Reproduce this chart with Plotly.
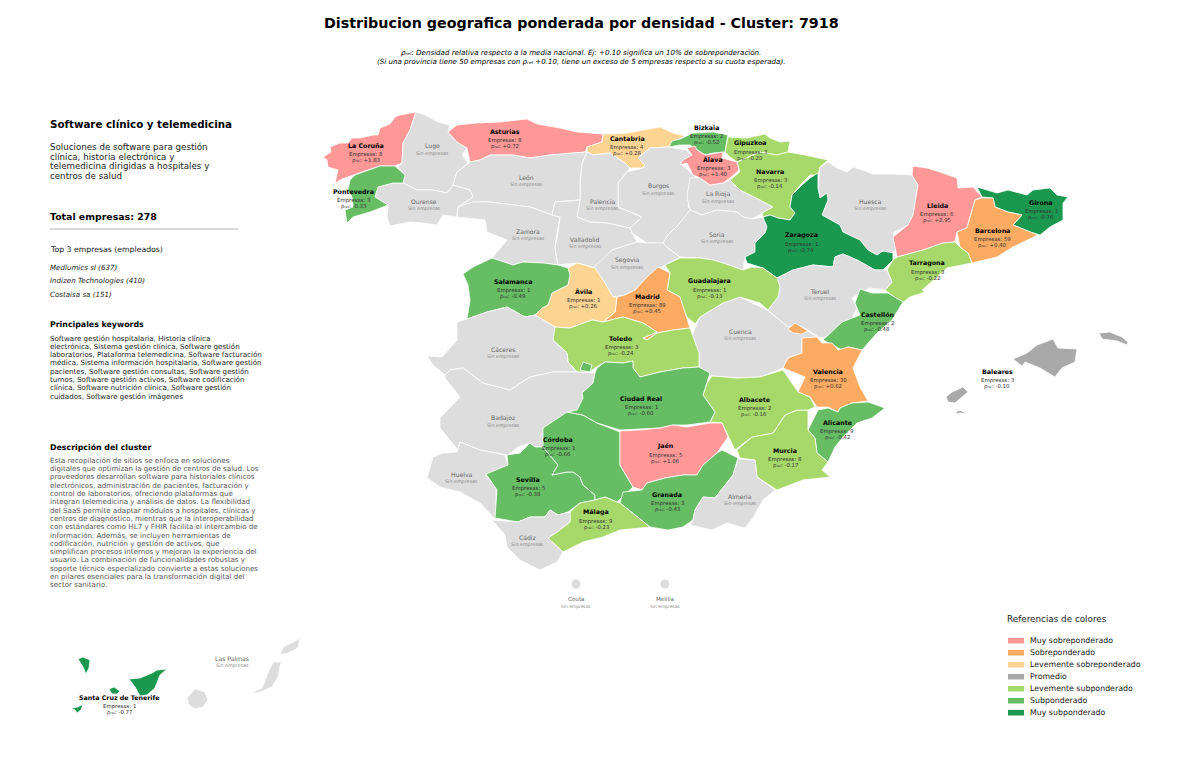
import plotly.graph_objects as go

FONT = "DejaVu Sans"

# province outlines
la_coruna = [(416,112),(410,113),(400,115),(395,117),(390,124),(380,128),(378,135),(373,135),(360,138),(352,138),(348,143),(340,143),(330,147),(331,152),(323,157),(327,160),(328,167),(338,170),(337,175),(335,183),(342,179),(353,175),(365,171),(380,166),(395,166),(402,163),(403,143),(410,130)]
lugo = [(416,112),(425,115),(438,122),(450,125),(448,132),(457,142),(467,148),(462,155),(468,163),(457,172),(453,185),(447,193),(433,190),(417,190),(403,183),(405,175),(398,167),(402,163),(403,143),(410,130)]
asturias = [(448,132),(457,125),(477,123),(500,122),(527,119),(537,124),(560,128),(577,132),(603,134),(602,142),(587,147),(585,152),(573,153),(550,155),(530,158),(513,155),(490,155),(480,160),(470,162),(467,148),(457,142)]
cantabria = [(603,134),(627,133),(660,127),(673,133),(685,136),(673,142),(668,147),(650,148),(638,158),(645,165),(643,168),(630,168),(625,163),(610,153),(593,155),(587,152),(587,147),(602,142)]
bizkaia = [(669,147),(672,141),(680,139),(693,133),(713,132),(728,135),(725,152),(713,153),(705,155),(697,150),(690,145),(680,145)]
gipuzkoa = [(728,137),(747,138),(765,134),(770,138),(780,142),(790,141),(788,152),(777,155),(760,152),(747,158),(737,162),(730,157),(725,152)]
navarra = [(788,152),(805,155),(828,160),(820,167),(818,175),(810,175),(802,183),(792,195),(790,207),(795,213),(790,220),(778,218),(770,215),(763,217),(762,213),(773,207),(760,200),(740,190),(730,180),(740,172),(737,162),(747,158),(760,152),(777,155)]
alava = [(687,148),(695,146),(697,150),(705,155),(717,153),(723,152),(722,158),(737,162),(739,170),(730,178),(723,183),(710,185),(700,178),(693,175),(687,163),(680,165),(683,160),(692,155)]
la_rioja = [(690,178),(700,178),(710,185),(723,183),(730,180),(740,190),(760,200),(773,207),(762,213),(752,219),(743,217),(737,212),(717,210),(702,215),(690,210),(687,197)]
burgos = [(668,147),(687,150),(692,157),(680,163),(690,172),(698,180),(690,190),(688,207),(697,215),(680,223),(668,235),(663,243),(647,243),(632,233),(630,228),(642,217),(618,207),(618,183),(627,172),(643,168),(645,165),(638,158),(650,148)]
palencia = [(587,152),(593,155),(610,153),(625,163),(630,168),(627,172),(618,183),(618,207),(642,217),(630,228),(607,223),(590,222),(577,217),(580,200),(580,183),(582,163)]
leon = [(470,162),(480,160),(490,155),(513,155),(530,158),(550,155),(573,153),(587,152),(582,163),(580,183),(580,200),(555,202),(552,215),(530,207),(490,202),(473,202),(458,207),(473,197),(470,190),(453,185),(457,172)]
ourense = [(378,187),(393,183),(403,183),(417,190),(433,190),(447,193),(453,185),(470,190),(473,197),(458,207),(457,217),(443,215),(437,225),(423,223),(410,222),(390,226),(387,217),(388,205),(375,197)]
pontevedra = [(350,180),(355,175),(380,166),(395,166),(405,175),(403,183),(393,183),(378,187),(375,197),(388,205),(370,212),(353,217),(347,223),(345,210),(353,207),(352,197),(348,190)]
zamora = [(458,207),(473,202),(490,202),(530,207),(552,215),(560,217),(557,233),(555,248),(558,265),(543,263),(523,262),(513,265),(492,258),(507,240),(487,232),(485,220),(457,217)]
valladolid = [(555,202),(580,200),(577,217),(590,222),(607,223),(630,228),(632,233),(637,242),(612,250),(595,268),(577,263),(558,265),(555,248),(558,233),(560,217),(552,215)]
segovia = [(612,250),(637,242),(647,243),(663,243),(668,248),(680,257),(665,265),(647,277),(635,290),(625,295),(613,297),(603,280),(593,268)]
soria = [(680,223),(690,210),(702,215),(717,210),(737,212),(743,217),(752,219),(763,217),(767,227),(765,233),(755,243),(755,252),(745,257),(743,270),(723,263),(713,260),(700,258),(680,257),(668,248),(663,243),(668,235)]
zaragoza = [(818,173),(810,178),(802,185),(792,195),(790,207),(795,213),(790,220),(778,218),(770,215),(763,217),(767,227),(765,233),(755,243),(755,252),(745,257),(747,263),(763,268),(777,278),(793,270),(813,265),(833,267),(835,257),(843,254),(857,260),(875,270),(883,270),(893,260),(893,253),(883,251),(877,255),(868,250),(860,240),(843,232),(840,225),(822,215),(828,200),(827,193),(820,198),(818,188)]
huesca = [(820,167),(828,162),(837,168),(847,172),(853,167),(863,170),(873,174),(893,174),(912,175),(918,185),(915,203),(913,215),(908,225),(893,233),(897,247),(893,253),(883,251),(877,255),(868,250),(860,240),(843,232),(840,225),(822,215),(828,200),(827,193),(820,198),(818,188)]
lleida = [(913,166),(927,168),(940,172),(957,178),(958,188),(973,187),(982,197),(975,200),(970,217),(967,228),(957,232),(955,242),(943,243),(923,250),(897,257),(893,237),(908,225),(913,215),(915,203),(918,185),(912,175)]
girona = [(977,187),(988,190),(997,193),(1008,190),(1027,195),(1033,190),(1050,188),(1057,195),(1068,197),(1063,203),(1063,220),(1050,227),(1040,235),(1030,232),(1013,225),(1022,215),(1008,212),(995,207),(993,198),(982,197)]
barcelona = [(975,200),(982,198),(993,198),(995,207),(1008,212),(1022,215),(1013,225),(1030,232),(1038,235),(1013,247),(997,257),(972,263),(968,253),(960,247),(957,232),(967,228),(970,217)]
tarragona = [(897,257),(923,250),(943,243),(955,242),(960,247),(968,253),(972,263),(947,268),(937,277),(922,290),(925,292),(910,297),(902,303),(885,290),(892,282),(887,270),(893,260)]
teruel = [(777,278),(793,270),(813,265),(833,267),(835,257),(843,254),(857,260),(875,270),(887,270),(892,282),(885,290),(870,288),(862,292),(852,298),(857,308),(850,323),(837,330),(823,338),(818,337),(808,330),(797,324),(788,327),(777,318),(768,310),(778,297),(780,287)]
castellon = [(860,289),(872,293),(888,293),(903,302),(892,320),(877,333),(862,350),(848,347),(842,350),(832,345),(823,340),(842,322),(860,315),(855,303)]
valencia = [(802,338),(817,337),(822,343),(832,343),(838,350),(848,347),(862,350),(853,368),(860,387),(868,401),(852,403),(840,408),(838,412),(828,407),(817,407),(810,397),(798,392),(805,377),(783,368),(788,358),(802,353)]
ademuz = [(788,329),(795,323),(808,331),(802,334),(793,333)]
alicante = [(840,408),(852,403),(868,402),(885,408),(872,418),(857,423),(843,437),(835,447),(828,462),(817,453),(815,438),(808,430),(818,410),(828,408),(838,412)]
murcia = [(737,450),(752,437),(773,433),(785,415),(797,410),(808,410),(808,430),(815,438),(817,453),(828,462),(822,470),(830,477),(803,480),(777,490),(757,477),(755,460),(740,458)]
albacete = [(712,376),(737,378),(760,377),(783,370),(798,392),(810,397),(815,407),(808,410),(797,410),(785,415),(773,433),(752,437),(735,450),(722,423),(710,422),(715,412),(703,395),(707,383)]
cuenca = [(690,340),(700,317),(723,303),(740,297),(767,310),(777,318),(788,327),(797,325),(808,331),(818,337),(802,338),(802,353),(788,358),(783,368),(760,377),(737,378),(712,376),(699,367),(699,353)]
guadalajara = [(665,265),(680,258),(700,258),(713,260),(723,263),(743,270),(752,267),(763,268),(777,278),(780,287),(778,297),(768,310),(760,303),(740,297),(723,303),(700,317),(695,324),(687,317),(680,303),(680,297),(667,290),(670,273)]
madrid = [(658,267),(670,273),(667,290),(680,297),(690,328),(673,330),(657,333),(647,340),(643,338),(657,332),(643,323),(623,317),(603,322),(615,312),(617,297),(625,295),(635,290),(647,277)]
avila = [(568,268),(577,263),(595,268),(603,280),(613,297),(617,297),(615,312),(603,322),(592,320),(570,328),(555,327),(535,315),(542,308),(548,305),(552,293),(568,285),(570,275)]
salamanca = [(463,274),(473,267),(492,258),(513,265),(523,262),(543,263),(558,265),(568,268),(570,275),(568,285),(552,293),(548,305),(542,308),(535,315),(525,317),(507,307),(487,312),(467,319),(470,300),(468,285)]
toledo = [(553,330),(555,327),(570,328),(592,320),(603,322),(623,317),(643,323),(657,332),(643,338),(647,340),(657,333),(673,330),(690,328),(699,353),(699,367),(683,368),(660,372),(640,377),(633,368),(633,361),(623,363),(605,362),(595,368),(590,372),(577,372),(568,362),(567,353),(553,340)]
caceres = [(457,322),(467,319),(487,312),(507,307),(525,317),(535,315),(555,327),(553,340),(567,353),(568,362),(577,372),(553,372),(530,377),(510,390),(483,383),(463,368),(450,370),(445,375),(433,365),(427,356),(442,357),(457,340)]
badajoz = [(445,375),(450,370),(463,368),(483,383),(510,390),(530,377),(553,372),(577,372),(595,373),(593,383),(582,393),(585,398),(577,410),(567,412),(543,428),(545,447),(533,447),(530,443),(518,447),(508,455),(480,450),(460,442),(458,450),(440,428),(440,418),(460,397),(445,378)]
huelva = [(460,442),(480,450),(505,455),(508,465),(485,475),(496,487),(496,520),(480,503),(460,492),(440,487),(427,478),(433,457),(443,453),(457,452)]
sevilla = [(486,474),(508,465),(507,455),(520,453),(530,443),(535,447),(543,447),(558,465),(552,475),(567,472),(573,472),(580,477),(583,485),(595,495),(595,500),(580,503),(568,512),(558,515),(550,510),(545,517),(530,517),(518,522),(495,518),(497,490)]
cordoba = [(543,428),(567,412),(583,415),(597,423),(620,432),(620,465),(633,487),(620,500),(617,502),(605,497),(595,500),(595,495),(583,485),(580,477),(573,472),(567,472),(552,475),(558,465),(543,447)]
ciudad_real = [(577,410),(583,398),(582,393),(593,383),(595,373),(597,368),(605,362),(623,363),(633,361),(633,368),(640,377),(660,372),(683,368),(699,367),(710,373),(707,383),(703,395),(715,412),(710,422),(687,425),(673,425),(660,428),(620,430),(597,423),(583,415),(567,412)]
anchuras = [(580,370),(583,362),(592,365),(590,372)]
jaen = [(620,431),(640,430),(660,428),(673,425),(687,427),(710,423),(722,423),(728,437),(717,453),(703,465),(697,475),(683,475),(665,478),(647,483),(642,490),(633,487),(620,465)]
granada = [(642,490),(647,483),(665,478),(683,475),(697,475),(703,465),(717,453),(722,450),(738,458),(733,475),(715,498),(703,497),(695,510),(693,520),(683,527),(668,530),(650,527),(620,503),(623,492)]
malaga = [(570,512),(580,503),(595,500),(605,497),(617,502),(620,503),(650,527),(620,530),(603,537),(583,542),(563,552),(548,538),(557,532),(570,522)]
cadiz = [(492,520),(518,522),(530,517),(545,517),(550,510),(558,515),(570,512),(570,522),(557,532),(548,538),(563,552),(557,562),(540,570),(520,560),(507,547),(505,535)]
almeria = [(738,459),(755,460),(757,477),(775,490),(763,500),(753,518),(745,528),(727,523),(712,530),(690,525),(693,520),(695,510),(703,497),(715,498),(733,475)]
mallorca = [(1013,359),(1027,353),(1037,345),(1053,339),(1058,348),(1077,349),(1075,362),(1062,368),(1055,377),(1040,368),(1025,362),(1022,366)]
menorca = [(1099,333),(1110,332),(1122,337),(1128,342),(1127,345),(1117,341),(1102,339)]
ibiza = [(946,397),(952,392),(963,387),(968,392),(962,397),(955,403),(948,402)]
formentera = [(956,412),(960,410),(967,414),(960,413),(956,414)]
la_palma = [(78,659),(83,657),(90,660),(89,668),(86,674),(83,667)]
tenerife = [(129,679),(140,678),(152,673),(157,670),(167,669),(160,675),(155,688),(147,695),(140,696),(135,687)]
la_gomera = [(109,689),(114,687),(120,691),(117,694),(112,694)]
el_hierro = [(71,708),(78,707),(83,704),(81,710),(77,713),(75,710)]
gran_canaria = [(187,698),(195,689),(205,692),(208,700),(203,707),(195,709),(189,705)]
fuerteventura = [(251,693),(262,688),(267,675),(273,662),(281,662),(278,677),(272,687),(258,693)]
lanzarote = [(280,655),(283,647),(297,640),(300,638),(298,648),(288,653)]

# name, outlines
provinces = [
    ("La Coruña", [la_coruna]), ("Lugo", [lugo]), ("Asturias", [asturias]), ("Cantabria", [cantabria]),
    ("Burgos", [burgos]), ("La Rioja", [la_rioja]), ("Bizkaia", [bizkaia]), ("Gipuzkoa", [gipuzkoa]),
    ("Navarra", [navarra]), ("Álava", [alava]), ("Palencia", [palencia]), ("León", [leon]),
    ("Ourense", [ourense]), ("Pontevedra", [pontevedra]), ("Zamora", [zamora]), ("Valladolid", [valladolid]),
    ("Segovia", [segovia]), ("Soria", [soria]), ("Huesca", [huesca]), ("Zaragoza", [zaragoza]),
    ("Lleida", [lleida]), ("Girona", [girona]), ("Barcelona", [barcelona]), ("Tarragona", [tarragona]),
    ("Teruel", [teruel]), ("Castellón", [castellon]), ("Cuenca", [cuenca]), ("Valencia", [valencia, ademuz]),
    ("Alicante", [alicante]), ("Murcia", [murcia]), ("Albacete", [albacete]), ("Guadalajara", [guadalajara]),
    ("Madrid", [madrid]), ("Ávila", [avila]), ("Salamanca", [salamanca]), ("Toledo", [toledo]),
    ("Cáceres", [caceres]), ("Badajoz", [badajoz]), ("Huelva", [huelva]), ("Sevilla", [sevilla]),
    ("Córdoba", [cordoba]), ("Ciudad Real", [ciudad_real, anchuras]), ("Jaén", [jaen]), ("Granada", [granada]),
    ("Málaga", [malaga]), ("Cádiz", [cadiz]), ("Almería", [almeria]),
    ("Baleares", [mallorca, menorca, ibiza, formentera]),
    ("Santa Cruz de Tenerife", [la_palma, tenerife, la_gomera, el_hierro]),
    ("Las Palmas", [gran_canaria, fuerteventura, lanzarote]),
]

empresas = {"La Coruña": 8, "Asturias": 8, "Cantabria": 4, "Bizkaia": 2, "Gipuzkoa": 3, "Álava": 3, "Navarra": 3,
            "Pontevedra": 3, "Zaragoza": 1, "Lleida": 6, "Girona": 1, "Barcelona": 59, "Tarragona": 3,
            "Castellón": 2, "Guadalajara": 1, "Madrid": 89, "Ávila": 1, "Salamanca": 1, "Toledo": 3,
            "Ciudad Real": 1, "Jaén": 5, "Córdoba": 1, "Sevilla": 5, "Granada": 3, "Málaga": 9, "Albacete": 2,
            "Murcia": 8, "Alicante": 9, "Valencia": 30, "Baleares": 3, "Santa Cruz de Tenerife": 1}
rho_rel = {"La Coruña": 1.83, "Asturias": 0.72, "Cantabria": 0.28, "Bizkaia": -0.52, "Gipuzkoa": -0.20, "Álava": 1.40,
           "Navarra": -0.14, "Pontevedra": -0.33, "Zaragoza": -0.74, "Lleida": 2.95, "Girona": -0.76,
           "Barcelona": 0.40, "Tarragona": -0.22, "Castellón": -0.48, "Guadalajara": -0.13, "Madrid": 0.45,
           "Ávila": 0.26, "Salamanca": -0.49, "Toledo": -0.24, "Ciudad Real": -0.60, "Jaén": 1.06, "Córdoba": -0.66,
           "Sevilla": -0.38, "Granada": -0.43, "Málaga": -0.23, "Albacete": -0.16, "Murcia": -0.17,
           "Alicante": -0.42, "Valencia": 0.62, "Baleares": -0.10, "Santa Cruz de Tenerife": -0.77}

# where each province name sits
label_pos = {"La Coruña": (366,145), "Lugo": (432,146), "Asturias": (505,131), "Cantabria": (627,138), "Bizkaia": (706,127),
             "Gipuzkoa": (750,143), "Álava": (713,159), "Navarra": (770,171), "La Rioja": (718,194), "Burgos": (658,186),
             "Palencia": (602,201), "León": (526,177), "Ourense": (424,201), "Pontevedra": (353,191), "Zamora": (528,231),
             "Valladolid": (585,239), "Segovia": (627,260), "Soria": (717,234), "Zaragoza": (801,235), "Huesca": (870,201),
             "Lleida": (937,205), "Girona": (1041,202), "Barcelona": (992,230), "Tarragona": (927,263), "Teruel": (820,291),
             "Castellón": (877,314), "Cuenca": (740,331), "Guadalajara": (709,281), "Madrid": (647,296), "Ávila": (583,291),
             "Salamanca": (513,281), "Toledo": (621,338), "Cáceres": (503,349), "Badajoz": (503,418), "Huelva": (461,474),
             "Sevilla": (528,479), "Córdoba": (558,439), "Ciudad Real": (641,398), "Jaén": (665,446), "Granada": (667,494),
             "Málaga": (596,512), "Cádiz": (527,537), "Almería": (740,496), "Albacete": (754,399), "Murcia": (785,450),
             "Alicante": (837,422), "Valencia": (828,371), "Baleares": (997,371), "Santa Cruz de Tenerife": (119,697),
             "Las Palmas": (232,658)}

ciudades = ["Ceuta", "Melilla"]
ciudades_x = [576, 665]
ciudades_y = [584, 584]

legend_labels = ["Muy sobreponderado", "Sobreponderado", "Levemente sobreponderado", "Promedio",
                 "Levemente subponderado", "Subponderado", "Muy subponderado"]
legend_colors = ["#ff9896", "#fdab62", "#fdd492", "#a9a9a9", "#a6d96a", "#66bd63", "#1a9850"]
SIN_DATOS = "#dddddd"
RHO = "ρᵣₑₗ"

keywords = ["Software gestión hospitalaria, Historia clínica",
            "electrónica, Sistema gestión clínica, Software gestión",
            "laboratorios, Plataforma telemedicina, Software facturación",
            "médica, Sistema información hospitalaria, Software gestión",
            "pacientes, Software gestión consultas, Software gestión",
            "turnos, Software gestión activos, Software codificación",
            "clínica, Software nutrición clínica, Software gestión",
            "cuidados, Software gestión imágenes"]
descripcion = ["Esta recopilación de sitios se enfoca en soluciones",
               "digitales que optimizan la gestión de centros de salud. Los",
               "proveedores desarrollan software para historiales clínicos",
               "electrónicos, administración de pacientes, facturación y",
               "control de laboratorios, ofreciendo plataformas que",
               "integran telemedicina y análisis de datos. La flexibilidad",
               "del SaaS permite adaptar módulos a hospitales, clínicas y",
               "centros de diagnóstico, mientras que la interoperabilidad",
               "con estándares como HL7 y FHIR facilita el intercambio de",
               "información. Además, se incluyen herramientas de",
               "codificación, nutrición y gestión de activos, que",
               "simplifican procesos internos y mejoran la experiencia del",
               "usuario. La combinación de funcionalidades robustas y",
               "soporte técnico especializado convierte a estas soluciones",
               "en pilares esenciales para la transformación digital del",
               "sector sanitario."]
subtitulo = ["Soluciones de software para gestión", "clínica, historia electrónica y",
             "telemedicina dirigidas a hospitales y", "centros de salud"]
top3 = ["Medlumics sl (637)", "Indizen Technologies (410)", "Costaisa sa (151)"]


def color_for(rho):
    if rho is None:
        return SIN_DATOS
    if rho >= 0.7:
        return legend_colors[0]
    if rho >= 0.3:
        return legend_colors[1]
    if rho > 0.1:
        return legend_colors[2]
    if rho >= -0.1:
        return legend_colors[3]
    if rho >= -0.3:
        return legend_colors[4]
    if rho >= -0.7:
        return legend_colors[5]
    return legend_colors[6]


def text(x, y, s, size=8, color="#000000", anchor="left", bold=False, italic=False):
    fig.add_annotation(x=x, y=y, text=s, showarrow=False, xanchor=anchor, yanchor="middle", borderpad=0, borderwidth=0,
                       font=dict(family=FONT, size=size, color=color, weight=700 if bold else 400,
                                 style="italic" if italic else "normal"))


fig = go.Figure()

for name, parts in provinces:
    xs, ys = [], []
    for part in parts:
        xs += [p[0] for p in part] + [part[0][0], None]
        ys += [p[1] for p in part] + [part[0][1], None]
    fig.add_trace(go.Scatter(x=xs, y=ys, mode="lines", fill="toself", fillcolor=color_for(rho_rel.get(name)),
                             line=dict(color="white", width=0.8), name=name, hoverinfo="name", showlegend=False))

fig.add_trace(go.Scatter(x=ciudades_x, y=ciudades_y, mode="markers", marker=dict(size=9, color=SIN_DATOS),
                         name="Ciudades", hoverinfo="skip", showlegend=False))

for name, (x, y) in label_pos.items():
    if name in empresas:
        text(x, y, name, size=6.3, anchor="center", bold=True)
        text(x, y + 9, "Empresas: %d" % empresas[name], size=5.4, color="#333333", anchor="center")
        text(x, y + 15, "%s: %+.2f" % (RHO, rho_rel[name]), size=5.4, color="#333333", anchor="center")
    else:
        text(x, y, name, size=6.1, color="#666666", anchor="center")
        text(x, y + 7, "Sin empresas", size=4.8, color="#8c8c8c", anchor="center")
for name, x, y in zip(ciudades, ciudades_x, ciudades_y):
    text(x, y + 15, name, size=5.6, color="#666666", anchor="center")
    text(x, y + 22, "Sin empresas", size=4.4, color="#8c8c8c", anchor="center")

# titles
text(581, 23, "Distribucion geografica ponderada por densidad - Cluster: 7918", size=14.3, anchor="center", bold=True)
text(581, 52, RHO + ": Densidad relativa respecto a la media nacional. Ej: +0.10 significa un 10% de sobreponderación.", size=7.1, anchor="center", italic=True)
text(581, 61, "(Si una provincia tiene 50 empresas con " + RHO + " +0.10, tiene un exceso de 5 empresas respecto a su cuota esperada).", size=7.1, anchor="center", italic=True)

# left panel
text(50, 124, "Software clínico y telemedicina", size=10.3, bold=True)
for i, line in enumerate(subtitulo):
    text(50, 147 + i * 9.7, line, size=8.7, color="#222222")
text(50, 216.5, "Total empresas: 278", size=9.4, bold=True)
fig.add_shape(type="line", x0=50, x1=238, y0=229, y1=229, line=dict(color="#cccccc", width=1.5))
text(50, 249, "Top 3 empresas (empleados)", size=7.75, color="#222222")
for i, line in enumerate(top3):
    text(50, 267 + i * 13.5, line, size=7.1, color="#222222", italic=True)
text(50, 324, "Principales keywords", size=7.85, bold=True)
for i, line in enumerate(keywords):
    text(50, 338 + i * 8.3, line, size=7.1, color="#222222")
text(50, 447, "Descripción del cluster", size=7.85, bold=True)
for i, line in enumerate(descripcion):
    text(50, 460.3 + i * 8.3, line, size=7.1, color="#555555")

# colour key
text(1007, 619, "Referencias de colores", size=8.8, color="#222222")
for i, (lab, col) in enumerate(zip(legend_labels, legend_colors)):
    y = 640.7 + i * 12
    fig.add_shape(type="rect", x0=1008, x1=1024, y0=y - 2.8, y1=y + 2.8, fillcolor=col, line=dict(width=0))
    text(1030, y, lab, size=7.85, color="#222222")

fig.update_layout(width=1200, height=761, margin=dict(l=0, r=0, t=0, b=0), plot_bgcolor="white", paper_bgcolor="white",
                  showlegend=False, font=dict(family=FONT),
                  xaxis=dict(range=[0, 1200], visible=False, fixedrange=True),
                  yaxis=dict(range=[761, 0], visible=False, fixedrange=True))

fig.write_html("out.html", config=dict(displayModeBar=False), post_script="document.body.style.margin='0';")
